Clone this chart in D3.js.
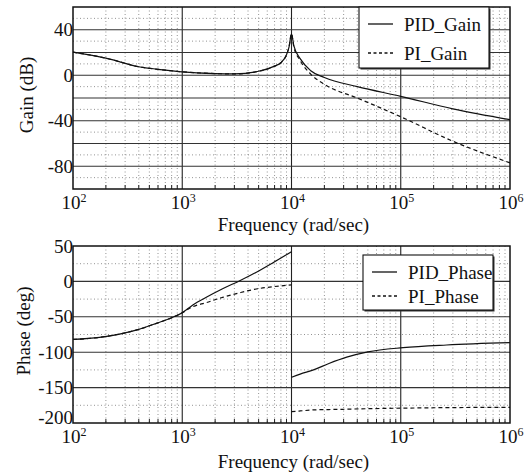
<!DOCTYPE html>
<html>
<head>
<meta charset="utf-8">
<script src="https://cdn.jsdelivr.net/npm/d3@7"></script>
</head>
<body style="margin:0">
<script>
// Bode data (frequency in rad/sec)
const gainFreq = [100, 200, 400, 700, 1000, 2000, 3000, 5000, 7000, 8000, 9000, 9500, 10000, 10500, 12000, 15000, 20000, 40000, 100000, 300000, 1000000];
const pidGain  = [20.3, 15, 7.5, 4.5, 3, 1.5, 1.2, 3.5, 8, 11, 18, 25, 36.5, 26, 14.6, 4, -2, -10, -18.5, -29.5, -39];
const piGain   = [20.3, 15, 7.5, 4.5, 3, 1.5, 1.2, 3.5, 8, 11, 18, 25, 36.5, 25, 13, 1, -8, -20, -36.5, -58, -77];

// phase jumps at 1e4, so two branches
const phaseFreqLow  = [100, 175, 400, 580, 820, 1000, 1250, 1660, 2340, 3360, 4770, 6770, 10000];
const pidPhaseLow   = [-82, -79, -67.7, -59.2, -50.7, -44.2, -33.3, -22.5, -10.5, 1, 13, 26.4, 42];
const piPhaseLow    = [-82, -79, -67.7, -59.2, -50.7, -44.2, -35.7, -30, -22.5, -16, -10.7, -7.5, -5];
const phaseFreqHigh = [10000, 12000, 15900, 22000, 32000, 50000, 105000, 263000, 1000000];
const pidPhaseHigh  = [-135.5, -131, -125, -116, -107, -99.5, -93.6, -89.8, -86.6];
const piPhaseHigh   = [-184, -183, -181.5, -181, -180.5, -179.8, -179, -178.3, -177.8];

const decades = [2, 3, 4, 5, 6];
const gainTicks = [40, 0, -40, -80];
const phaseTicks = [50, 0, -50, -100, -150, -200];

const W = 525, H = 474;
const left = 73, right = 510;
const fs = 19;

const svg = d3.select("body").append("svg")
    .attr("width", W)
    .attr("height", H);

const x = d3.scaleLog().domain([1e2, 1e6]).range([left, right]);

// every label goes through here so it gets the serif face
function label(parent, txt) {
    return parent.append("text")
        .attr("font-family", "Liberation Serif")
        .attr("font-size", fs)
        .attr("fill", "#111")
        .text(txt);
}

function panel(yDomain, top, bottom, major, minor, ticks, yTitle, series, legendBox, labels) {
    const y = d3.scaleLinear().domain(yDomain).range([bottom, top]);
    const g = svg.append("g");

    // minor grid: dotted
    const minorX = [];
    for (let d = 2; d < 6; d++) for (let k = 2; k <= 9; k++) minorX.push(k * Math.pow(10, d));
    g.selectAll(".mx").data(minorX).enter().append("line")
        .attr("x1", d => x(d)).attr("x2", d => x(d))
        .attr("y1", top).attr("y2", bottom)
        .attr("stroke", "#777").attr("stroke-width", 0.8)
        .attr("stroke-dasharray", "1,2.5");
    g.selectAll(".my").data(minor).enter().append("line")
        .attr("x1", left).attr("x2", right)
        .attr("y1", d => y(d)).attr("y2", d => y(d))
        .attr("stroke", "#777").attr("stroke-width", 0.8)
        .attr("stroke-dasharray", "1,2.5");

    // bottom minor tick marks
    g.selectAll(".mt").data(minorX).enter().append("line")
        .attr("x1", d => x(d)).attr("x2", d => x(d))
        .attr("y1", bottom).attr("y2", bottom - 4)
        .attr("stroke", "#222").attr("stroke-width", 1);

    // major grid: solid
    g.selectAll(".Mx").data([1e3, 1e4, 1e5]).enter().append("line")
        .attr("x1", d => x(d)).attr("x2", d => x(d))
        .attr("y1", top).attr("y2", bottom)
        .attr("stroke", "#222").attr("stroke-width", 1.1);
    g.selectAll(".My").data(major).enter().append("line")
        .attr("x1", left).attr("x2", right)
        .attr("y1", d => y(d)).attr("y2", d => y(d))
        .attr("stroke", "#333").attr("stroke-width", 1.1);

    // curves
    const line = d3.line()
        .x(d => x(d[0]))
        .y(d => y(d[1]))
        .curve(d3.curveMonotoneX);
    series.forEach(s => {
        g.append("path")
            .datum(s.freq.map((f, i) => [f, s.values[i]]))
            .attr("fill", "none")
            .attr("stroke", "#111")
            .attr("stroke-width", 1.2)
            .attr("stroke-dasharray", s.dash ? "4,3" : null)
            .attr("d", line);
    });

    // frame
    g.append("rect")
        .attr("x", left).attr("y", top)
        .attr("width", right - left).attr("height", bottom - top)
        .attr("fill", "none").attr("stroke", "#111").attr("stroke-width", 1.5);

    // y tick labels
    ticks.forEach((t, i) => {
        label(g, t)
            .attr("x", left)
            .attr("y", y(t) + (labels.lastUp && i === ticks.length - 1 ? -6 : 0))
            .attr("dy", "0.35em")
            .attr("text-anchor", "end");
    });

    // x tick labels 10^n
    decades.forEach(d => {
        const t = label(g, "10")
            .attr("x", x(Math.pow(10, d)) + 1)
            .attr("y", bottom + 20)
            .attr("text-anchor", "middle");
        t.append("tspan").attr("dy", -7).attr("font-size", 12).text(d);
    });

    label(g, "Frequency (rad/sec)")
        .attr("x", (left + right) / 2 + 2)
        .attr("y", bottom + labels.titleDy)
        .attr("text-anchor", "middle");

    label(g, yTitle)
        .attr("transform", `translate(${labels.yTitleX},${labels.yTitleY}) rotate(-90)`)
        .attr("text-anchor", "middle")
        .attr("dy", "0.35em");

    // legend
    const lg = g.append("g");
    lg.append("rect")
        .attr("x", legendBox.x + 1.5).attr("y", legendBox.y + 1.5)
        .attr("width", legendBox.w).attr("height", legendBox.h)
        .attr("fill", "#333");
    lg.append("rect")
        .attr("x", legendBox.x).attr("y", legendBox.y)
        .attr("width", legendBox.w).attr("height", legendBox.h)
        .attr("fill", "#fff").attr("stroke", "#111").attr("stroke-width", 1.1);
    series.forEach((s, i) => {
        const yy = legendBox.y + legendBox.rows[i];
        lg.append("line")
            .attr("x1", legendBox.x + 9).attr("x2", legendBox.x + 34)
            .attr("y1", yy).attr("y2", yy)
            .attr("stroke", "#111").attr("stroke-width", 1.3)
            .attr("stroke-dasharray", s.dash ? "3,2.5" : null);
        label(lg, s.name)
            .attr("x", legendBox.x + 45)
            .attr("y", yy)
            .attr("dy", "0.35em");
    });
}

panel([-100, 60], 7, 189,
    [40, 20, 0, -20, -40, -60, -80],
    [50, 30, 10, -10, -30, -50, -70, -90],
    gainTicks, "Gain (dB)",
    [
        { name: "PID_Gain", freq: gainFreq, values: pidGain, dash: false },
        { name: "PI_Gain", freq: gainFreq, values: piGain, dash: true }
    ],
    { x: 359, y: 7, w: 130, h: 61, rows: [17, 46] },
    { titleDy: 42, yTitleX: 26, yTitleY: 95, lastUp: false });

panel([-200, 50], 246, 423,
    [0, -50, -100, -150],
    [25, -25, -75, -125, -175],
    phaseTicks, "Phase (deg)",
    [
        { name: "PID_Phase", freq: phaseFreqLow, values: pidPhaseLow, dash: false },
        { name: "PI_Phase", freq: phaseFreqLow, values: piPhaseLow, dash: true }
    ],
    { x: 363, y: 255, w: 130, h: 55, rows: [17, 41] },
    { titleDy: 45, yTitleX: 23, yTitleY: 331, lastUp: true });

// high-frequency phase branches (after the jump at 1e4)
const yPhase = d3.scaleLinear().domain([-200, 50]).range([423, 246]);
const hiLine = d3.line().x(d => x(d[0])).y(d => yPhase(d[1])).curve(d3.curveMonotoneX);
[[pidPhaseHigh, null], [piPhaseHigh, "4,3"]].forEach(([vals, dash]) => {
    svg.append("path")
        .datum(phaseFreqHigh.map((f, i) => [f, vals[i]]))
        .attr("fill", "none")
        .attr("stroke", "#111")
        .attr("stroke-width", 1.2)
        .attr("stroke-dasharray", dash)
        .attr("d", hiLine);
});
</script>
</body>
</html>
